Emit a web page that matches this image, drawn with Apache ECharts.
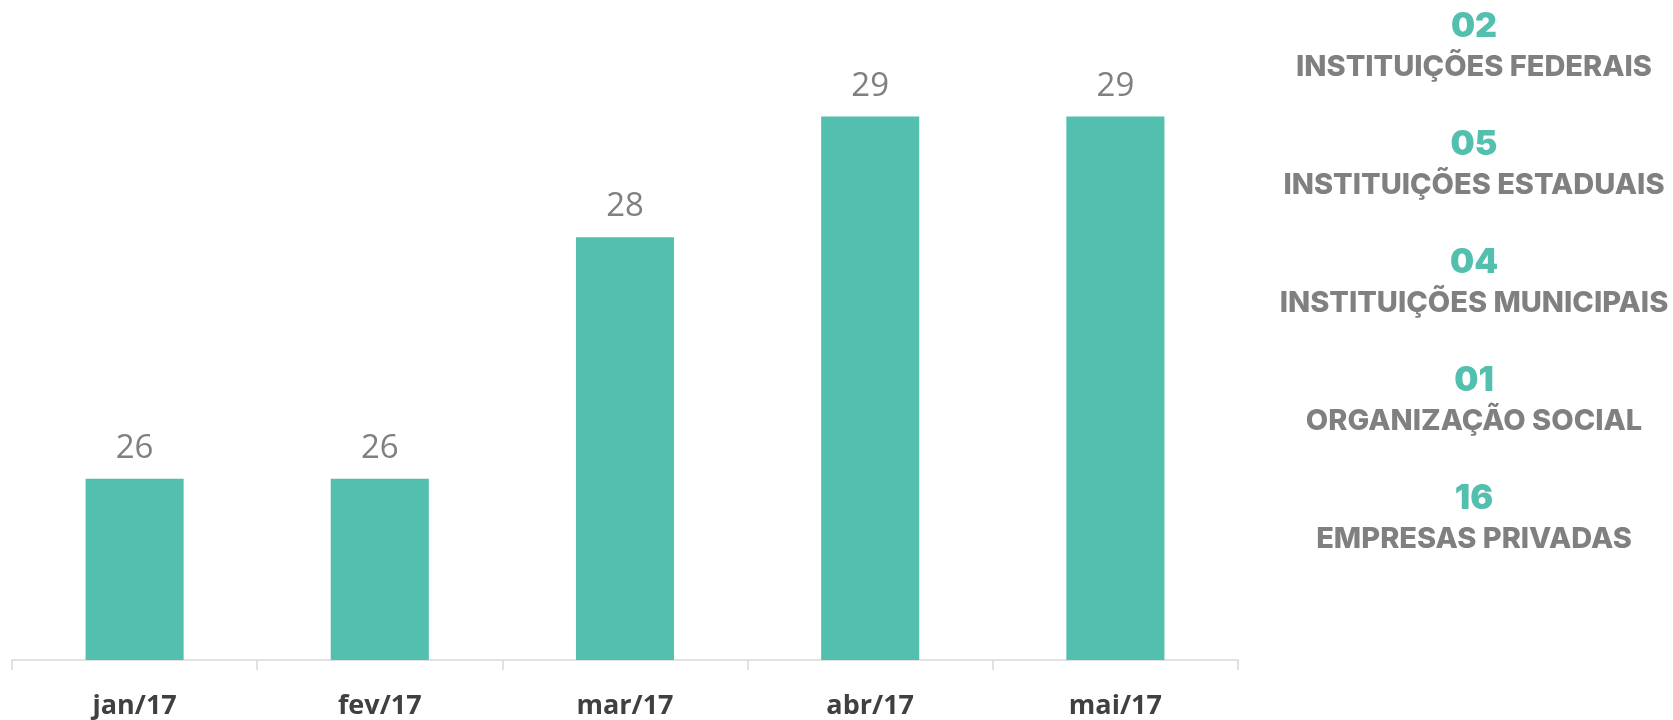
<!DOCTYPE html>
<html>
<head>
<meta charset="utf-8">
<script src="https://cdn.jsdelivr.net/npm/echarts@6/dist/echarts.min.js"></script>
<style>
  html, body { margin: 0; padding: 0; background: #fff; }
  #main { width: 1673px; height: 720px; }
</style>
</head>
<body>
<div id="main"></div>
<script>
// dados
var meses = ['jan/17', 'fev/17', 'mar/17', 'abr/17', 'mai/17'];
var valores = [26, 26, 28, 29, 29];
var contagens = ['02', '05', '04', '01', '16'];
var tipos = ['INSTITUIÇÕES FEDERAIS', 'INSTITUIÇÕES ESTADUAIS', 'INSTITUIÇÕES MUNICIPAIS', 'ORGANIZAÇÃO SOCIAL', 'EMPRESAS PRIVADAS'];

var verde = '#53bfae';
var cinza = '#808080';

var chart = echarts.init(document.getElementById('main'));

// textos da direita
var textos = [];
for (var i = 0; i < contagens.length; i++) {
    var y = 27 + i * 118;
    textos.push({
        type: 'text', x: 1474, y: y,
        style: {
            text: contagens[i], fill: verde, align: 'center', verticalAlign: 'middle',
            font: '900 34px Inter'
        }
    });
    textos.push({
        type: 'text', x: 1474, y: y + 40,
        style: {
            text: tipos[i], fill: cinza, align: 'center', verticalAlign: 'middle',
            font: '800 29px Inter'
        }
    });
}

chart.setOption({
    animation: false,
    grid: {
        left: 12,
        right: 435,
        top: 20,
        bottom: 60
    },
    xAxis: [{
        type: 'category',
        data: meses,
        axisLine: { show: true, lineStyle: { color: '#d9d9d9', width: 1.5 } },
        axisTick: { show: true, length: 10, lineStyle: { color: '#d9d9d9', width: 1.5 } },
        axisLabel: {
            color: '#404040',
            fontFamily: 'Open Sans',
            fontWeight: 'bold',
            fontSize: 27,
            margin: 33
        }
    }],
    yAxis: [{
        type: 'value',
        min: 24.5,
        max: 29.8,
        show: false,
        splitLine: { show: false }
    }],
    series: [{
        name: 'total',
        type: 'bar',
        barWidth: '40%',
        itemStyle: { color: verde },
        label: {
            show: true,
            position: 'top',
            distance: 14,
            color: cinza,
            fontFamily: 'Open Sans',
            fontSize: 33
        },
        data: valores
    }],
    graphic: textos
});
</script>
</body>
</html>
